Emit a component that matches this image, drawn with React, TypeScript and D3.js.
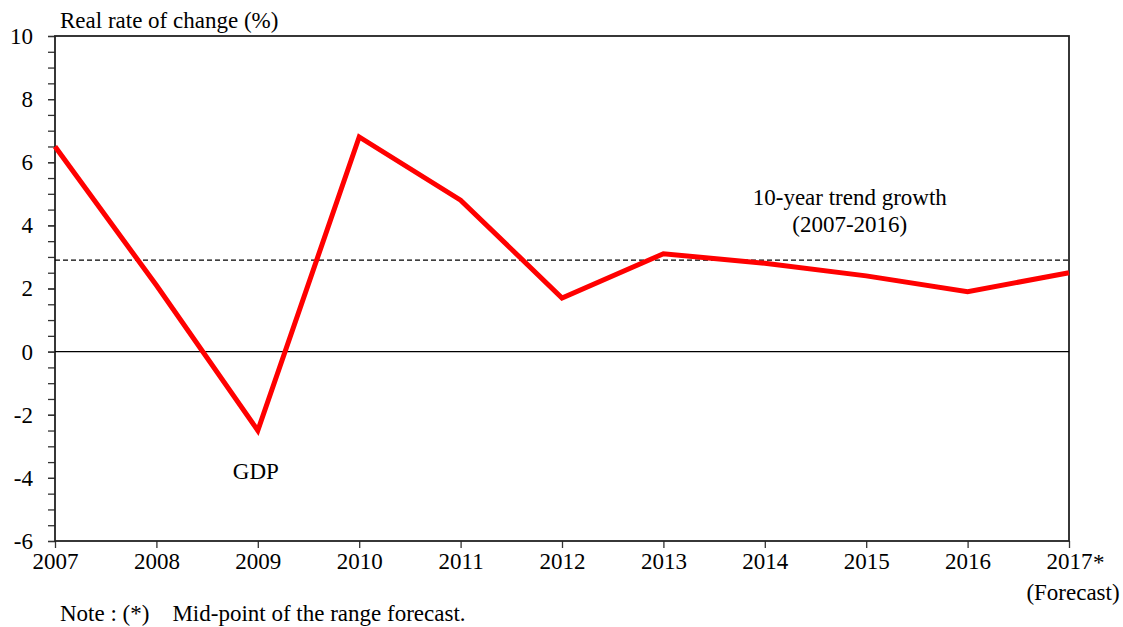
import { axisBottom, axisLeft, line, range, scaleLinear, select } from "d3";
import React, { useEffect, useRef } from "react";

const years = [2007, 2008, 2009, 2010, 2011, 2012, 2013, 2014, 2015, 2016, 2017];
const gdp = [6.5, 2.1, -2.5, 6.8, 4.8, 1.7, 3.1, 2.8, 2.4, 1.9, 2.5];
const trendGrowth = 2.9;
const yTicks = [-6, -4, -2, 0, 2, 4, 6, 8, 10];

const FONT = "'Liberation Serif', 'Times New Roman', serif";
const FS = 23;

const App: React.FC = () => {
    const svgRef = useRef<SVGSVGElement>(null);

    useEffect(() => {
        const width = 1123,
            height = 627;
        const margin = { top: 36, right: 54, bottom: 86, left: 55 };
        const innerW = width - margin.left - margin.right;
        const innerH = height - margin.top - margin.bottom;

        const xScale = scaleLinear()
            .domain([years[0], years[years.length - 1]])
            .range([0, innerW]);
        const yScale = scaleLinear().domain([-6, 10]).range([innerH, 0]);

        const svg = select(svgRef.current);
        svg.selectAll("*").remove();
        const g = svg
            .append("g")
            .attr("transform", `translate(${margin.left},${margin.top})`);

        // minor ticks every 0.5
        g.append("g")
            .call(
                axisLeft(yScale)
                    .tickValues(range(-6, 10.01, 0.5))
                    .tickSize(7)
                    .tickFormat(() => ""),
            )
            .call(s => s.select(".domain").remove())
            .call(s => s.selectAll(".tick line").attr("stroke", "#333").attr("stroke-width", 1.3));

        // major ticks with labels
        g.append("g")
            .call(
                axisLeft(yScale)
                    .tickValues(yTicks)
                    .tickSize(7)
                    .tickPadding(15)
                    .tickFormat(d => String(d)),
            )
            .call(s => s.select(".domain").remove())
            .call(s => s.selectAll(".tick line").attr("stroke", "#333").attr("stroke-width", 1.3))
            .call(s =>
                s
                    .selectAll(".tick text")
                    .attr("font-family", FONT)
                    .attr("font-size", FS)
                    .attr("fill", "#000"),
            );

        // x axis
        g.append("g")
            .attr("transform", `translate(0,${innerH})`)
            .call(
                axisBottom(xScale)
                    .tickValues(years)
                    .tickSize(7)
                    .tickPadding(5)
                    .tickFormat(d => String(d)),
            )
            .call(s => s.select(".domain").remove())
            .call(s => s.selectAll(".tick line").attr("stroke", "#333").attr("stroke-width", 1.3))
            .call(s =>
                s
                    .selectAll(".tick text")
                    .attr("font-family", FONT)
                    .attr("font-size", FS)
                    .attr("fill", "#000"),
            );

        // asterisk and forecast label for last year
        const last = years[years.length - 1];
        g.append("text")
            .attr("x", xScale(last) + 24)
            .attr("y", innerH + 29)
            .attr("font-family", FONT)
            .attr("font-size", FS)
            .text("*");
        g.append("text")
            .attr("x", xScale(last) + 4)
            .attr("y", innerH + 59)
            .attr("text-anchor", "middle")
            .attr("font-family", FONT)
            .attr("font-size", FS)
            .text("(Forecast)");

        // plot frame
        g.append("rect")
            .attr("x", 0)
            .attr("y", 0)
            .attr("width", innerW)
            .attr("height", innerH)
            .attr("fill", "none")
            .attr("stroke", "#222")
            .attr("stroke-width", 1.8);

        // zero line
        g.append("line")
            .attr("x1", 0)
            .attr("x2", innerW)
            .attr("y1", yScale(0))
            .attr("y2", yScale(0))
            .attr("stroke", "#000")
            .attr("stroke-width", 1.2);

        // trend line
        g.append("line")
            .attr("x1", 0)
            .attr("x2", innerW)
            .attr("y1", yScale(trendGrowth))
            .attr("y2", yScale(trendGrowth))
            .attr("stroke", "#000")
            .attr("stroke-width", 1.2)
            .attr("stroke-dasharray", "5, 3");

        // GDP line
        const gdpLine = line<number>()
            .x((_, i) => xScale(years[i]))
            .y(d => yScale(d));
        g.append("path")
            .datum(gdp)
            .attr("fill", "none")
            .attr("stroke", "#ff0000")
            .attr("stroke-width", 5)
            .attr("stroke-linejoin", "miter")
            .attr("d", gdpLine);

        // annotations
        g.append("text")
            .attr("x", xScale(2009) - 2)
            .attr("y", yScale(-4) + 1)
            .attr("text-anchor", "middle")
            .attr("font-family", FONT)
            .attr("font-size", FS)
            .text("GDP");

        const trendLabel = g
            .append("text")
            .attr("text-anchor", "middle")
            .attr("font-family", FONT)
            .attr("font-size", FS);
        trendLabel
            .append("tspan")
            .attr("x", xScale(2014) + 85)
            .attr("y", 169)
            .text("10-year trend growth");
        trendLabel
            .append("tspan")
            .attr("x", xScale(2014) + 85)
            .attr("y", 196)
            .text("(2007-2016)");

        // y axis title
        svg.append("text")
            .attr("x", 60)
            .attr("y", 28)
            .attr("font-family", FONT)
            .attr("font-size", FS)
            .text("Real rate of change (%)");

        // note
        svg.append("text")
            .attr("x", 60)
            .attr("y", 621)
            .attr("font-family", FONT)
            .attr("font-size", FS)
            .attr("xml:space", "preserve")
            .style("white-space", "pre")
            .text("Note : (*)    Mid-point of the range forecast.");
    }, []);

    return (
        <svg
            ref={svgRef}
            width={1123}
            height={627}
            style={{ position: "absolute", left: 0, top: 0, background: "#fff" }}
        ></svg>
    );
};

export default App;
